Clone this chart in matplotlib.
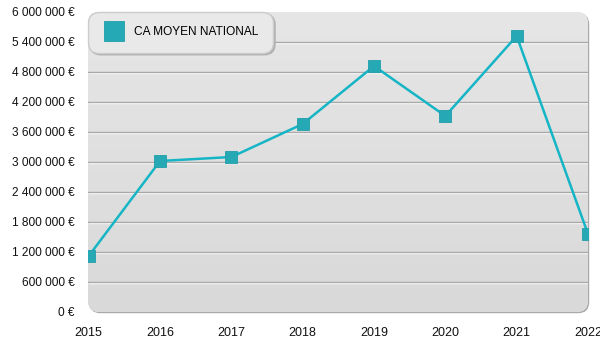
import numpy as np
import matplotlib
matplotlib.use("Agg")
import matplotlib.pyplot as plt
from matplotlib.patches import FancyBboxPatch
from matplotlib.lines import Line2D
from matplotlib.transforms import IdentityTransform, offset_copy

# Average national turnover per year
years = [2015, 2016, 2017, 2018, 2019, 2020, 2021, 2022]
ca_moyen = [1120000, 3020000, 3100000, 3760000, 4920000, 3920000, 5520000, 1560000]
y_ticks = [0, 600000, 1200000, 1800000, 2400000, 3000000, 3600000, 4200000, 4800000, 5400000, 6000000]
series_label = "CA MOYEN NATIONAL"

plt.rcParams['font.family'] = ['Liberation Sans', 'DejaVu Sans']

W, H, DPI = 600, 350, 100
fig = plt.figure(figsize=(W / DPI, H / DPI), dpi=DPI)
fig.patch.set_facecolor('white')

left, right, top, bottom = 88, 588, 12, 312
ax = fig.add_axes([left / W, (H - bottom) / H, (right - left) / W, (bottom - top) / H])
ax.set_facecolor('none')
for s in ax.spines.values():
    s.set_visible(False)

# Rounded panel with thin shadow edge and vertical gradient
px = IdentityTransform()
x0, y0, w, h = left, H - bottom, right - left, bottom - top
shadow = FancyBboxPatch((x0 + 1.2, y0 - 1.2), w, h, boxstyle="round,pad=0,rounding_size=11",
                        transform=px, facecolor='#a9a9a9', edgecolor='none', zorder=0, clip_on=False)
ax.add_artist(shadow)
panel = FancyBboxPatch((x0, y0), w, h, boxstyle="round,pad=0,rounding_size=11",
                       transform=px, facecolor='#e0e0e0', edgecolor='none', zorder=0.5, clip_on=False)
ax.add_artist(panel)
grad = np.linspace(0, 1, 256).reshape(-1, 1)
img = ax.imshow(grad, extent=[0, 1, 0, 1], transform=ax.transAxes, aspect='auto',
                cmap=matplotlib.colors.LinearSegmentedColormap.from_list('bg', ['#e6e6e6', '#d9d9d9']),
                origin='upper', zorder=0.6)
img.set_clip_path(panel)

x_lo, x_hi = years[0] - 0.01, years[-1] + 0.0
ax.set_xlim(x_lo, x_hi)
ax.set_ylim(0, 6000000)

# Embossed gridlines: grey line with a white highlight just below
white_tr = offset_copy(ax.transData, fig=fig, x=0, y=-1, units='dots')
for t in y_ticks[1:-1]:
    ax.plot([x_lo, x_hi], [t, t], color='white', lw=1, transform=white_tr,
            zorder=1, solid_capstyle='butt')
    ax.axhline(t, color='#a8a8a8', lw=1, zorder=1.1)

teal = '#15b5c6'
ax.plot(years, ca_moyen, color=teal, lw=1.8, zorder=3)
ax.plot(years, ca_moyen, linestyle='none', marker='s', markersize=8.6,
        markerfacecolor='#27a9b5', markeredgecolor='#1f9fab', markeredgewidth=0.6,
        zorder=4, clip_on=True)

def fmt(v):
    return f"{v:,}".replace(",", " ") + " €"

ax.set_yticks(y_ticks)
ax.set_yticklabels([fmt(v) for v in y_ticks])
ax.set_xticks(years)
ax.set_xticklabels([str(y) for y in years])
ax.tick_params(axis='both', length=0, labelcolor='#111111')
ax.tick_params(axis='y', pad=9.5, labelsize=8.6)
ax.tick_params(axis='x', pad=11, labelsize=9)

handle = Line2D([], [], linestyle='none', marker='s', markersize=14.5,
                markerfacecolor='#25a9b5', markeredgecolor='#1f9fab', markeredgewidth=0.6)
leg = ax.legend([handle], [series_label], loc='upper left', bbox_to_anchor=(0, 1),
                borderaxespad=0, frameon=True, fancybox=True, borderpad=1.2,
                handletextpad=0.7, handlelength=1.97, fontsize=8.6,
                facecolor='#e9e9e9', edgecolor='#cccccc', framealpha=1,
                shadow={'ox': 1.5, 'oy': -1.5, 'color': '#b0b0b0', 'alpha': 1})
leg.get_frame().set_boxstyle('round,pad=0,rounding_size=0.9')
leg.set_zorder(5)

fig.savefig('out.png', dpi=DPI)
